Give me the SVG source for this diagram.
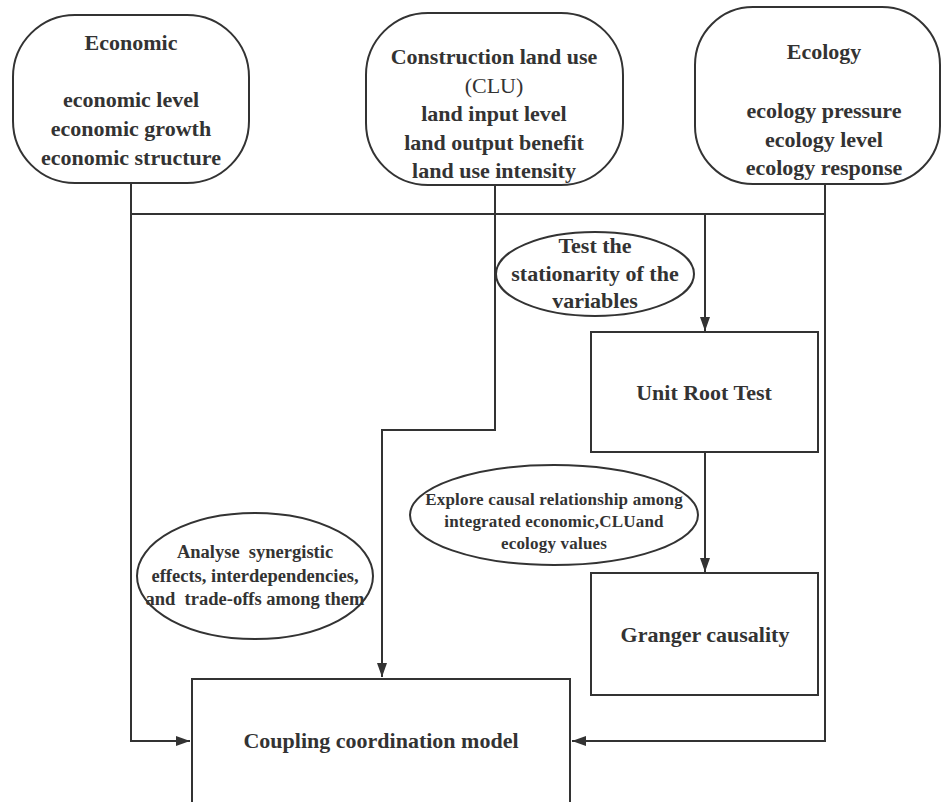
<svg xmlns="http://www.w3.org/2000/svg" width="942" height="802" viewBox="0 0 942 802">
<style>
.box{fill:#fff;stroke:#333;stroke-width:2}
.t{font-family:"Liberation Serif","Times New Roman",serif;font-weight:bold;fill:#333;text-anchor:middle;font-size:22px}
.s{font-size:18.5px}
.e{font-size:17px;letter-spacing:0.2px}
.n{font-weight:normal}
.ln{fill:none;stroke:#333;stroke-width:2}
</style>
<defs>
<marker id="ar" viewBox="0 0 14 10" refX="14" refY="5" markerWidth="14" markerHeight="10" markerUnits="userSpaceOnUse" orient="auto">
<path d="M0,0 L14,5 L0,10 Z" fill="#333"/>
</marker>
</defs>
<rect width="942" height="802" fill="#fff"/>
<g id="connectors">
<path class="ln" d="M131,184 V741 H190" marker-end="url(#ar)"/>
<path class="ln" d="M131,214 H825"/>
<path class="ln" d="M495,185 V430 H382 V677" marker-end="url(#ar)"/>
<path class="ln" d="M825,184 V741 H572" marker-end="url(#ar)"/>
<path class="ln" d="M705,214 V331" marker-end="url(#ar)"/>
<path class="ln" d="M705,452 V572" marker-end="url(#ar)"/>
</g>
<g id="economic">
<rect class="box" x="13" y="15" width="236" height="168" rx="62"/>
<text class="t" x="131" y="50">Economic</text>
<text class="t" x="131" y="107">economic level</text>
<text class="t" x="131" y="136">economic growth</text>
<text class="t" x="131" y="165">economic structure</text>
</g>
<g id="clu">
<rect class="box" x="366" y="13" width="257" height="172" rx="62"/>
<text class="t" x="494" y="64">Construction land use</text>
<text class="t n" x="494" y="93">(CLU)</text>
<text class="t" x="494" y="121">land input level</text>
<text class="t" x="494" y="150">land output benefit</text>
<text class="t" x="494" y="178">land use intensity</text>
</g>
<g id="ecology">
<rect class="box" x="695" y="7" width="245" height="177" rx="58"/>
<text class="t" x="824" y="59">Ecology</text>
<text class="t" x="824" y="118">ecology pressure</text>
<text class="t" x="824" y="147">ecology level</text>
<text class="t" x="824" y="175">ecology response</text>
</g>
<g id="test-note">
<ellipse class="box" cx="595" cy="274" rx="99" ry="42"/>
<text class="t" x="595" y="253">Test the</text>
<text class="t" x="595" y="281">stationarity of the</text>
<text class="t" x="595" y="308">variables</text>
</g>
<g id="unit-root">
<rect class="box" x="591" y="332" width="227" height="120"/>
<text class="t" x="704" y="400">Unit Root Test</text>
</g>
<g id="explore-note">
<ellipse class="box" cx="554" cy="515" rx="144" ry="50"/>
<text class="t e" x="554" y="505">Explore causal relationship among</text>
<text class="t e" x="554" y="527">integrated economic,CLUand</text>
<text class="t e" x="554" y="549">ecology values</text>
</g>
<g id="granger">
<rect class="box" x="591" y="573" width="227" height="122"/>
<text class="t" x="705" y="642">Granger causality</text>
</g>
<g id="analyse-note">
<ellipse class="box" cx="255" cy="576" rx="118" ry="63"/>
<text class="t s" x="255" y="558" xml:space="preserve">Analyse  synergistic</text>
<text class="t s" x="255" y="582">effects, interdependencies,</text>
<text class="t s" x="255" y="605" xml:space="preserve">and  trade-offs among them</text>
</g>
<g id="coupling">
<rect class="box" x="192" y="679" width="378" height="140"/>
<text class="t" x="381" y="748">Coupling coordination model</text>
</g>
</svg>
